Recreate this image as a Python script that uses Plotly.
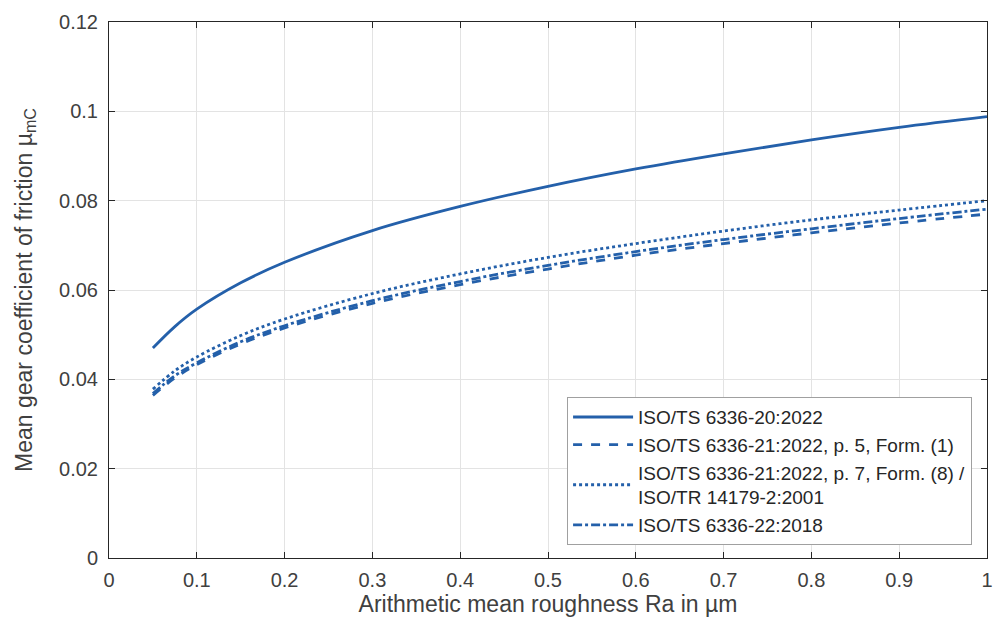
import plotly.graph_objects as go

ra = [0.05, 0.075, 0.1, 0.15, 0.2, 0.3, 0.4, 0.5, 0.6, 0.7, 0.8, 0.9, 1.0]
mu_20 = [0.0470, 0.0518, 0.0557, 0.0616, 0.0662, 0.0733, 0.0787, 0.0832, 0.0871, 0.0905, 0.0936, 0.0964, 0.0988]
mu_21_f1 = [0.0364, 0.0403, 0.0433, 0.0479, 0.0515, 0.0570, 0.0612, 0.0647, 0.0678, 0.0704, 0.0728, 0.0750, 0.0770]
mu_21_f8 = [0.0378, 0.0419, 0.0450, 0.0498, 0.0535, 0.0592, 0.0636, 0.0673, 0.0704, 0.0732, 0.0757, 0.0779, 0.0800]
mu_22 = [0.0368, 0.0408, 0.0437, 0.0484, 0.0520, 0.0576, 0.0619, 0.0655, 0.0686, 0.0713, 0.0737, 0.0760, 0.0781]

names = [
    "ISO/TS 6336-20:2022",
    "ISO/TS 6336-21:2022, p. 5, Form. (1)",
    "ISO/TS 6336-21:2022, p. 7, Form. (8) /<br>ISO/TR 14179-2:2001",
    "ISO/TS 6336-22:2018",
]
series = [mu_20, mu_21_f1, mu_21_f8, mu_22]
dashes = ["solid", "dash", "dot", "dashdot"]

blue = "rgb(36,96,170)"
FONT = "Liberation Sans, Arial, sans-serif"
fig = go.Figure()
for name, ys, d in zip(names, series, dashes):
    fig.add_trace(go.Scatter(x=ra, y=ys, mode="lines", name=name,
                             line=dict(color=blue, width=2.8, dash=d, shape="spline")))

axis_common = dict(
    showline=True, linecolor="#262626", linewidth=1, mirror="ticks",
    ticks="inside", ticklen=6, tickcolor="#262626",
    showgrid=True, gridcolor="#e3e3e3", gridwidth=1, zeroline=False,
    tickfont=dict(family=FONT, size=20, color="#404040"),
    automargin=False,
)
fig.update_xaxes(range=[0, 1], dtick=0.1, tickformat="~g", ticklabelstandoff=4,
                 title=dict(text="Arithmetic mean roughness Ra in µm",
                            font=dict(family=FONT, size=23, color="#404040"),
                            standoff=4),
                 **axis_common)
fig.update_yaxes(range=[0, 0.12], dtick=0.02, tickformat="~g", ticklabelstandoff=6,
                 title=dict(text="Mean gear coefficient of friction µ<sub>mC</sub>",
                            font=dict(family=FONT, size=23, color="#404040"),
                            standoff=20),
                 **axis_common)
fig.update_layout(
    width=987, height=610,
    margin=dict(l=101, r=8, t=14, b=60, autoexpand=False),
    paper_bgcolor="white", plot_bgcolor="white",
    legend=dict(x=0.983, y=0.024, xanchor="right", yanchor="bottom",
                bgcolor="white", bordercolor="#a0a0a0", borderwidth=1,
                font=dict(family=FONT, size=19, color="#262626"),
                tracegroupgap=0, itemwidth=60),
    showlegend=True,
)
fig.write_html("out.html")
